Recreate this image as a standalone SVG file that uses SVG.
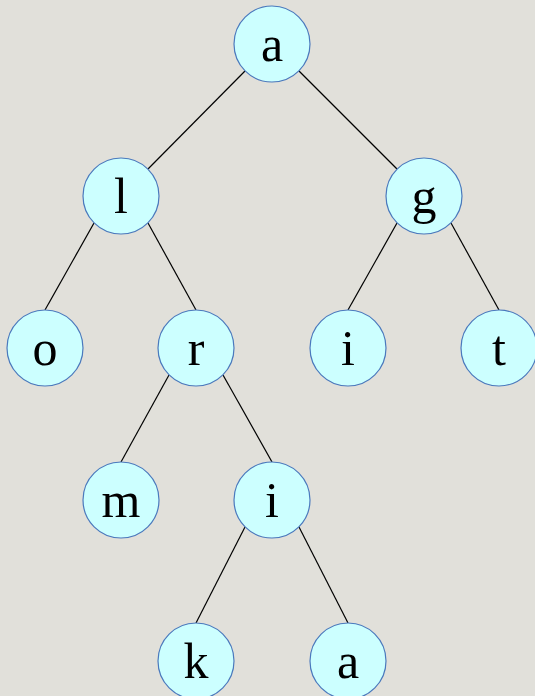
<svg xmlns="http://www.w3.org/2000/svg" width="535" height="696" viewBox="0 0 535 696">
<style>
.n circle{fill:#ccffff;stroke:#4a79bd;stroke-width:1.2}
.n text{font-family:"Liberation Serif","Times New Roman",serif;font-size:50px;fill:#000;text-anchor:middle}
#edges line{stroke:#000;stroke-width:1.2}
</style>
<rect width="535" height="696" fill="#e1e0da"/>
<g id="edges">
<line x1="245" y1="71" x2="148" y2="169"/>
<line x1="299" y1="71" x2="397" y2="169"/>
<line x1="94" y1="223" x2="45" y2="310"/>
<line x1="148" y1="223" x2="196" y2="310"/>
<line x1="397" y1="223" x2="348" y2="310"/>
<line x1="451" y1="223" x2="499" y2="310"/>
<line x1="169" y1="375" x2="121" y2="462"/>
<line x1="223" y1="375" x2="272" y2="462"/>
<line x1="245" y1="527" x2="196" y2="623"/>
<line x1="299" y1="527" x2="348" y2="623"/>
</g>
<g id="n_a" class="n"><circle cx="272" cy="44" r="38"/><text x="272" y="61">a</text></g>
<g id="n_l" class="n"><circle cx="121" cy="196" r="38"/><text x="121" y="213">l</text></g>
<g id="n_g" class="n"><circle cx="424" cy="196" r="38"/><text x="424" y="213">g</text></g>
<g id="n_o" class="n"><circle cx="45" cy="348" r="38"/><text x="45" y="365">o</text></g>
<g id="n_r" class="n"><circle cx="196" cy="348" r="38"/><text x="196" y="365">r</text></g>
<g id="n_i" class="n"><circle cx="348" cy="348" r="38"/><text x="348" y="365">i</text></g>
<g id="n_t" class="n"><circle cx="499" cy="348" r="38"/><text x="499" y="365">t</text></g>
<g id="n_m" class="n"><circle cx="121" cy="500" r="38"/><text x="121" y="517">m</text></g>
<g id="n_i2" class="n"><circle cx="272" cy="500" r="38"/><text x="272" y="517">i</text></g>
<g id="n_k" class="n"><circle cx="196" cy="661" r="38"/><text x="196" y="678">k</text></g>
<g id="n_a2" class="n"><circle cx="348" cy="661" r="38"/><text x="348" y="678">a</text></g>
</svg>
